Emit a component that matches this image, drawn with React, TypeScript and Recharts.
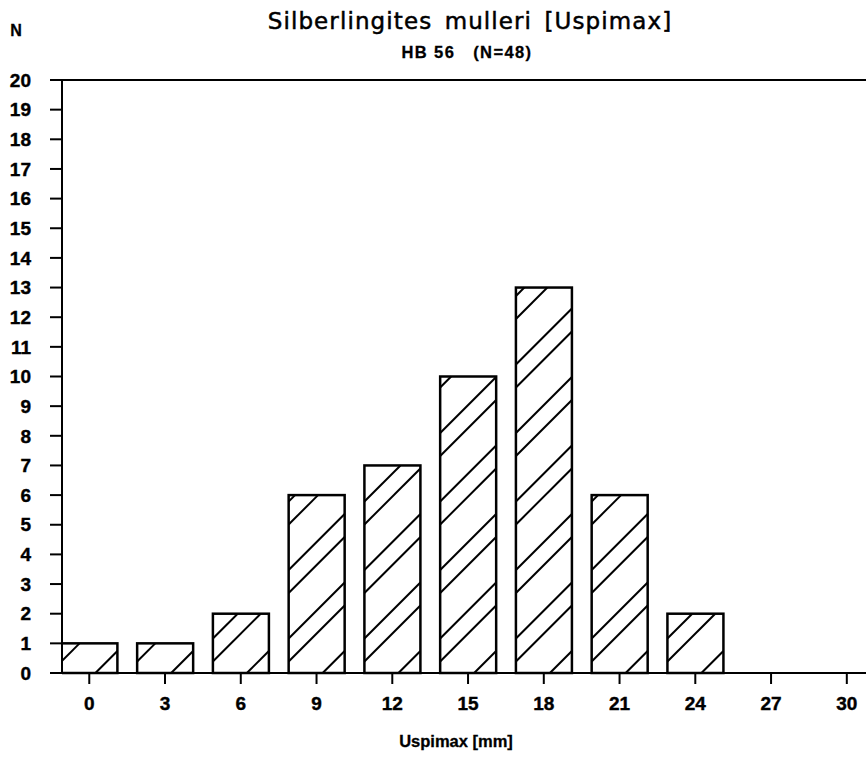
import React from 'react';
import { BarChart, Bar, XAxis, YAxis, ReferenceLine } from 'recharts';

const classes = [0, 3, 6, 9, 12, 15, 18, 21, 24, 27, 30];
const counts = [1, 1, 2, 6, 7, 10, 13, 6, 2, 0, 0];
const yTicks = [0, 1, 2, 3, 4, 5, 6, 7, 8, 9, 10, 11, 12, 13, 14, 15, 16, 17, 18, 19, 20];
const titleText = 'Silberlingites mulleri [Uspimax]';
const subtitleText = 'HB 56   (N=48)';
const xTitleText = 'Uspimax [mm]';
const yTitleText = 'N';

const data = classes.map((c, i) => ({ cls: c, n: counts[i] }));

const HATCH_PERIOD = 68.5;
const HATCH_OFFSETS = [34, 57];

const HatchBar = (props: any) => {
  const { x, y, width, height } = props;
  if (!height || height <= 0.5) return null;
  const bottom = y + height;
  const lines: any[] = [];
  const kMin = -Math.ceil(height / HATCH_PERIOD) - 2;
  for (let k = 1; k >= kMin; k--) {
    for (const off of HATCH_OFFSETS) {
      const c = x + off + k * HATCH_PERIOD;
      const tmin = Math.max(0, x - c);
      const tmax = Math.min(height, x + width - c);
      if (tmax > tmin + 0.5) {
        lines.push(
          <line
            key={`${k}-${off}`}
            x1={c + tmin}
            y1={bottom - tmin}
            x2={c + tmax}
            y2={bottom - tmax}
            stroke="#000"
            strokeWidth={2}
          />
        );
      }
    }
  }
  return (
    <g>
      <rect x={x} y={y} width={width} height={height} fill="#fff" stroke="none" />
      {lines}
      <rect x={x} y={y} width={width} height={height} fill="none" stroke="#000" strokeWidth={2.5} />
    </g>
  );
};

const tickStyle = {
  fill: '#000',
  stroke: '#000',
  strokeWidth: 0.4,
  fontFamily: '"Liberation Sans", Arial, sans-serif',
  fontWeight: 700,
  fontSize: 19,
};

export default function App() {
  return (
    <div style={{ position: 'absolute', left: 0, top: 0, width: 866, height: 758, background: '#fff' }}>
      <BarChart
        width={866}
        height={758}
        data={data}
        margin={{ top: 80, right: 0, bottom: 0, left: 0 }}
      >
        <XAxis
          dataKey="cls"
          type="number"
          domain={[-1.08, 30.76]}
          allowDataOverflow
          ticks={classes}
          interval={0}
          height={85}
          tickSize={11}
          tickMargin={13}
          axisLine={{ stroke: '#000', strokeWidth: 2 }}
          tickLine={{ stroke: '#000', strokeWidth: 2 }}
          tick={tickStyle}
        />
        <YAxis
          type="number"
          domain={[0, 20]}
          ticks={yTicks}
          interval={0}
          width={62}
          tickSize={12}
          tickMargin={19}
          axisLine={{ stroke: '#000', strokeWidth: 2 }}
          tickLine={{ stroke: '#000', strokeWidth: 2 }}
          tick={tickStyle}
        />
        <ReferenceLine y={20} stroke="#000" strokeWidth={2} ifOverflow="extendDomain" />
        <Bar dataKey="n" barSize={56} shape={HatchBar} isAnimationActive={false} />
      </BarChart>
      <svg
        width={866}
        height={758}
        style={{ position: 'absolute', left: 0, top: 0, pointerEvents: 'none' }}
      >
        <text
          x={470}
          y={29}
          textAnchor="middle"
          stroke="#000"
          strokeWidth={0.5}
          style={{ fontFamily: '"DejaVu Sans", sans-serif', fontSize: 23, letterSpacing: 1.1, wordSpacing: 4 }}
          fill="#000"
        >
          {titleText}
        </text>
        <text
          x={467}
          y={57.5}
          textAnchor="middle"
          stroke="#000"
          strokeWidth={0.3}
          style={{ fontFamily: '"Liberation Sans", Arial, sans-serif', fontSize: 16.5, fontWeight: 700, whiteSpace: 'pre', letterSpacing: 1.4 }}
          fill="#000"
          xmlSpace="preserve"
        >
          {subtitleText}
        </text>
        <text
          x={16}
          y={36}
          textAnchor="middle"
          stroke="#000"
          strokeWidth={0.3}
          style={{ fontFamily: '"Liberation Sans", Arial, sans-serif', fontSize: 16, fontWeight: 700 }}
          fill="#000"
        >
          {yTitleText}
        </text>
        <text
          x={456}
          y={747}
          textAnchor="middle"
          stroke="#000"
          strokeWidth={0.3}
          style={{ fontFamily: '"Liberation Sans", Arial, sans-serif', fontSize: 16.5, fontWeight: 700 }}
          fill="#000"
        >
          {xTitleText}
        </text>
      </svg>
    </div>
  );
}
